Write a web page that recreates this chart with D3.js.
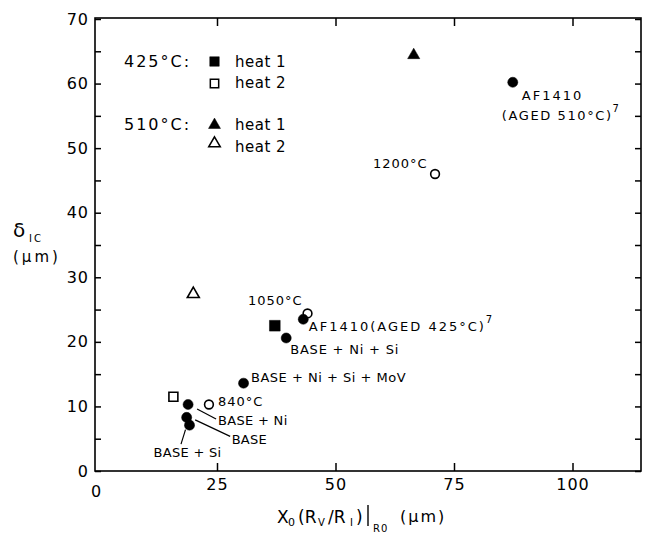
<!DOCTYPE html>
<html>
<head>
<meta charset="utf-8">
<script src="https://cdn.jsdelivr.net/npm/d3@7"></script>
<style>
  body { margin: 0; background: #fff; }
  text { font-family: "DejaVu Sans", sans-serif; fill: #000; }
</style>
</head>
<body>
<div id="chart"></div>
<script>
// ---- data ----
// filled circles: alloys
const alloyNames = ['AF1410 (AGED 510°C)', 'AF1410 (AGED 425°C)', 'BASE + Ni + Si',
  'BASE + Ni + Si + MoV', 'BASE + Ni', 'BASE', 'BASE + Si'];
const alloyX = [87.4, 43.2, 39.6, 30.6, 18.9, 18.6, 19.2];
const alloyY = [60.2, 23.5, 20.6, 13.6, 10.3, 8.3, 7.1];

// open circles: austenitizing temperatures
const austTemps = ['840°C', '1050°C', '1200°C'];
const austX = [23.3, 44.1, 71.0];
const austY = [10.3, 24.4, 46.0];

// 425°C / 510°C heats
const heat1_425X = [37.2], heat1_425Y = [22.5];
const heat2_425X = [15.8], heat2_425Y = [11.5];
const heat1_510X = [66.5], heat1_510Y = [64.4];
const heat2_510X = [20.0], heat2_510Y = [27.4];

const xTicks = [0, 25, 50, 75, 100];
const yTicks = [0, 10, 20, 30, 40, 50, 60, 70];
const yMinor = d3.range(0, 71, 5);

// ---- layout ----
const W = 650, H = 534;
const mLeft = 95, mRight = 641, mTop = 18, mBottom = 471;

const svg = d3.select('#chart').append('svg')
  .attr('width', W).attr('height', H);

svg.append('rect').attr('width', W).attr('height', H).attr('fill', '#fff');

const x = d3.scaleLinear().domain([0, 100]).range([98.5, 572.5]);
const y = d3.scaleLinear().domain([0, 70]).range([mBottom, 19]);

// frame
svg.append('rect')
  .attr('x', mLeft).attr('y', mTop)
  .attr('width', mRight - mLeft).attr('height', mBottom - mTop)
  .attr('fill', 'none').attr('stroke', '#000').attr('stroke-width', 1.6);

function styleAxis(g) {
  g.select('.domain').remove();
  g.selectAll('line').attr('stroke', '#000').attr('stroke-width', 1.5);
  g.selectAll('text')
    .style('font-family', '"DejaVu Sans", sans-serif')
    .style('font-size', '16px')
    .style('letter-spacing', '1px')
    .attr('fill', '#000');
}

// left axis
svg.append('g')
  .attr('transform', `translate(${mLeft},0)`)
  .call(d3.axisLeft(y).tickValues(yMinor).tickSize(-6).tickPadding(6)
    .tickFormat(d => yTicks.includes(d) ? d : ''))
  .call(styleAxis);

// right axis (ticks only)
svg.append('g')
  .attr('transform', `translate(${mRight},0)`)
  .call(d3.axisRight(y).tickValues(yMinor).tickSize(-6).tickFormat(''))
  .call(styleAxis);

// bottom axis
const xb = svg.append('g')
  .attr('transform', `translate(0,${mBottom})`)
  .call(d3.axisBottom(x).tickValues(xTicks).tickSize(-8).tickPadding(8))
  .call(styleAxis);
xb.selectAll('.tick').filter(d => d === 0).select('line').remove();
xb.selectAll('.tick').filter(d => d === 0).select('text').attr('x', -2.5).attr('dy', '1.1em');

// top axis (ticks only)
svg.append('g')
  .attr('transform', `translate(0,${mTop})`)
  .call(d3.axisTop(x).tickValues(xTicks.slice(1)).tickSize(-8).tickFormat(''))
  .call(styleAxis);

// ---- markers ----
const sym = (type, size) => d3.symbol().type(type).size(size)();

function drawPoints(xs, ys, type, size, filled) {
  svg.append('g').selectAll('path')
    .data(xs.map((v, i) => ({ x: v, y: ys[i] })))
    .join('path')
    .attr('transform', d => `translate(${x(d.x)},${y(d.y)})`)
    .attr('d', sym(type, size))
    .attr('fill', filled ? '#000' : '#fff')
    .attr('stroke', '#000')
    .attr('stroke-width', filled ? 0.5 : 1.6);
}

drawPoints(austX, austY, d3.symbolCircle, 60, false);
drawPoints(alloyX, alloyY, d3.symbolCircle, 80, true);
drawPoints(heat1_425X, heat1_425Y, d3.symbolSquare, 115, true);
drawPoints(heat2_425X, heat2_425Y, d3.symbolSquare, 80, false);
drawPoints(heat1_510X, heat1_510Y, d3.symbolTriangle, 64, true);
drawPoints(heat2_510X, heat2_510Y, d3.symbolTriangle, 62, false);

// ---- point labels ----
// offsets in px from the marker: [dx, dy, letter-spacing]
const alloyLabelPos = [
  null,               // AF1410 510 handled below (two lines)
  [5.5, 12, 2],
  [4, 16, 0.8],
  [7.5, -1, 0.5],
  [30, 20.5, 0.3],
  [45, 26.5, 0.3],
  [-36, 31.7, 0.3]
];
const leaders = [null, null, null, null,
  [[9, 4.5], [28, 14.5]],
  [[8.5, 2.5], [43.5, 19]],
  [[-4, 4.5], [-8.5, 19]]];

const lab = svg.append('g').style('font-size', '13px');

alloyNames.forEach((name, i) => {
  const px = x(alloyX[i]), py = y(alloyY[i]);
  if (i === 0) {
    lab.append('text').attr('x', px + 9).attr('y', py + 18)
      .style('letter-spacing', '2px').text('AF1410');
    const t = lab.append('text').attr('x', px - 11).attr('y', py + 38)
      .style('letter-spacing', '1.6px');
    t.append('tspan').text('(AGED 510°C)');
    t.append('tspan').attr('dy', -8).style('font-size', '10px').text('7');
    return;
  }
  const [dx, dy, ls] = alloyLabelPos[i];
  const t = lab.append('text').attr('x', px + dx).attr('y', py + dy)
    .style('letter-spacing', ls + 'px');
  if (i === 1) {
    t.append('tspan').text('AF1410(AGED 425°C)');
    t.append('tspan').attr('dy', -8).style('font-size', '10px').text('7');
  } else {
    t.text(name);
  }
  if (leaders[i]) {
    const [a, b] = leaders[i];
    lab.append('line')
      .attr('x1', px + a[0]).attr('y1', py + a[1])
      .attr('x2', px + b[0]).attr('y2', py + b[1])
      .attr('stroke', '#000').attr('stroke-width', 1.2);
  }
});

const austLabelPos = [[9, 1.5], [-59.5, -8.5], [-62, -6]];
austTemps.forEach((name, i) => {
  const [dx, dy] = austLabelPos[i];
  lab.append('text')
    .attr('x', x(austX[i]) + dx).attr('y', y(austY[i]) + dy)
    .style('letter-spacing', '1px')
    .text(name);
});

// ---- legend ----
const lg = svg.append('g');
lg.append('text').attr('x', 124).attr('y', 67)
  .style('font-size', '16px').style('letter-spacing', '2px').text('425°C:');
lg.append('text').attr('x', 124).attr('y', 130)
  .style('font-size', '16px').style('letter-spacing', '2px').text('510°C:');
const legendRows = [
  { y: 61.5, type: d3.symbolSquare, size: 90, filled: true, label: 'heat 1', ty: 67 },
  { y: 83.5, type: d3.symbolSquare, size: 70, filled: false, label: 'heat 2', ty: 88 },
  { y: 125, type: d3.symbolTriangle, size: 62, filled: true, label: 'heat 1', ty: 130 },
  { y: 143.5, type: d3.symbolTriangle, size: 58, filled: false, label: 'heat 2', ty: 152 }
];
legendRows.forEach(r => {
  lg.append('path')
    .attr('transform', `translate(214.5,${r.y})`)
    .attr('d', sym(r.type, r.size))
    .attr('fill', r.filled ? '#000' : '#fff')
    .attr('stroke', '#000').attr('stroke-width', r.filled ? 0.5 : 1.5);
  lg.append('text').attr('x', 235).attr('y', r.ty)
    .style('font-size', '15px').style('letter-spacing', '0.5px').text(r.label);
});

// ---- axis titles ----
const yt = svg.append('g');
yt.append('text').attr('x', 13).attr('y', 237).style('font-size', '20px').text('δ');
yt.append('text').attr('x', 29).attr('y', 242).style('font-size', '10px')
  .style('letter-spacing', '2px').text('IC');
yt.append('text').attr('x', 13).attr('y', 262).style('font-size', '15px')
  .style('letter-spacing', '3px').text('(μm)');

const xt = svg.append('g').style('font-size', '17px');
xt.append('text').attr('x', 277).attr('y', 523).text('X');
xt.append('text').attr('x', 288).attr('y', 526).style('font-size', '11px').text('0');
xt.append('text').attr('x', 298).attr('y', 523).text('(R');
xt.append('text').attr('x', 318).attr('y', 526).style('font-size', '10px').text('V');
xt.append('text').attr('x', 328).attr('y', 523).text('/R');
xt.append('text').attr('x', 350).attr('y', 526).style('font-size', '10px').text('I');
xt.append('text').attr('x', 356).attr('y', 523).text(')');
xt.append('line').attr('x1', 368).attr('x2', 368).attr('y1', 505).attr('y2', 526)
  .attr('stroke', '#000').attr('stroke-width', 1.4);
xt.append('text').attr('x', 373).attr('y', 532).style('font-size', '10px')
  .style('letter-spacing', '1px').text('R0');
xt.append('text').attr('x', 400).attr('y', 522).style('font-size', '16px')
  .style('letter-spacing', '2px').text('(μm)');
</script>
</body>
</html>
